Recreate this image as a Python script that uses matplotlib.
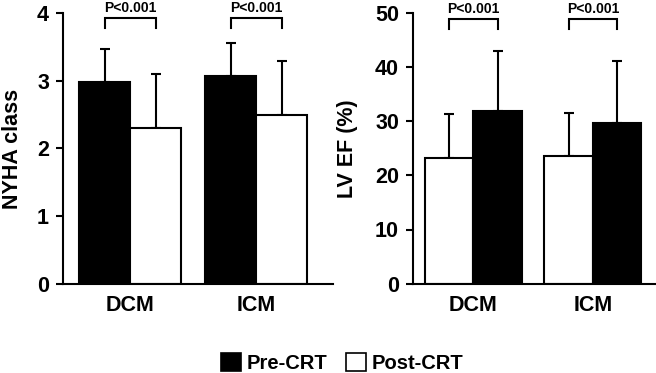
import matplotlib
matplotlib.use("Agg")
import matplotlib.pyplot as plt
from matplotlib.patches import Patch
import numpy as np

plt.rcParams['font.family'] = ['Liberation Sans', 'DejaVu Sans']
plt.rcParams['font.weight'] = 'bold'

categories = ["DCM", "ICM"]
# NYHA class (left panel): bar1 = black, bar2 = white
nyha_pre = [2.98, 3.07]
nyha_pre_sd = [0.50, 0.50]
nyha_post = [2.31, 2.50]
nyha_post_sd = [0.79, 0.79]
# LV EF (right panel): bar1 = white, bar2 = black
ef_first = [23.3, 23.6]
ef_first_sd = [8.0, 7.9]
ef_second = [31.9, 29.8]
ef_second_sd = [11.1, 11.4]
p_text = "P<0.001"
legend_labels = ["Pre-CRT", "Post-CRT"]

W, H = 656, 373
fig = plt.figure(figsize=(W / 100, H / 100), dpi=100)

lw = 1.5
bw = 0.405


def setup(ax, ylim, yticks, ylabel, labelpad):
    ax.set_ylim(*ylim)
    ax.set_yticks(yticks)
    ax.spines['top'].set_visible(False)
    ax.spines['right'].set_visible(False)
    for s in ('left', 'bottom'):
        ax.spines[s].set_linewidth(lw)
    ax.tick_params(axis='y', width=lw, length=5, labelsize=15.5, pad=5)
    ax.tick_params(axis='x', length=0, labelsize=15.5, pad=8)
    ax.set_xticks(range(len(categories)))
    ax.set_xticklabels(categories, fontweight='bold')
    for t in ax.get_yticklabels():
        t.set_fontweight('bold')
    ax.set_ylabel(ylabel, fontsize=15.5, fontweight='bold', labelpad=labelpad)


def bars(ax, x, vals, sds, color, offset):
    xs = np.array(x) + offset
    ax.bar(xs, vals, width=bw, color=color, edgecolor='black', linewidth=lw, zorder=2)
    ax.errorbar(xs, vals, yerr=[np.zeros(len(sds)), sds], fmt='none', ecolor='black',
                elinewidth=lw, capsize=3.5, capthick=lw, zorder=1)


def bracket(ax, x, ytop, ydrop, yt):
    for xi in x:
        x1, x2 = xi - bw / 2, xi + bw / 2
        ax.plot([x1, x1, x2, x2], [ytop - ydrop, ytop, ytop, ytop - ydrop], color='black',
                lw=lw, clip_on=False, solid_joinstyle='miter')
        ax.text(xi, yt, p_text, ha='center', va='bottom', fontsize=10, fontweight='bold')


x = np.arange(len(categories))

ax1 = fig.add_axes([63 / W, 1 - 283.5 / H, 270 / W, 270 / H])
ax1.set_xlim(-0.532, 1.611)
setup(ax1, (0, 4), [0, 1, 2, 3, 4], "NYHA class", 10)
bars(ax1, x, nyha_pre, nyha_pre_sd, 'black', -bw / 2)
bars(ax1, x, nyha_post, nyha_post_sd, 'white', bw / 2)
bracket(ax1, x, 3.93, 0.15, 3.98)

ax2 = fig.add_axes([413 / W, 1 - 283.5 / H, 242 / W, 270 / H])
ax2.set_xlim(-0.505, 1.52)
setup(ax2, (0, 50), [0, 10, 20, 30, 40, 50], "LV EF (%)", 12)
bars(ax2, x, ef_first, ef_first_sd, 'white', -bw / 2)
bars(ax2, x, ef_second, ef_second_sd, 'black', bw / 2)
bracket(ax2, x, 49.0, 1.9, 49.6)

handles = [Patch(facecolor='black', edgecolor='black', linewidth=1.2),
           Patch(facecolor='white', edgecolor='black', linewidth=1.2)]
fig.legend(handles, legend_labels, loc='center', bbox_to_anchor=(342 / W, 1 - 363 / H),
           ncol=2, frameon=False, prop={'size': 14.5, 'weight': 'bold'},
           handlelength=1.0, handleheight=1.0, handletextpad=0.3, columnspacing=0.9)

fig.savefig("out.png", dpi=100)
